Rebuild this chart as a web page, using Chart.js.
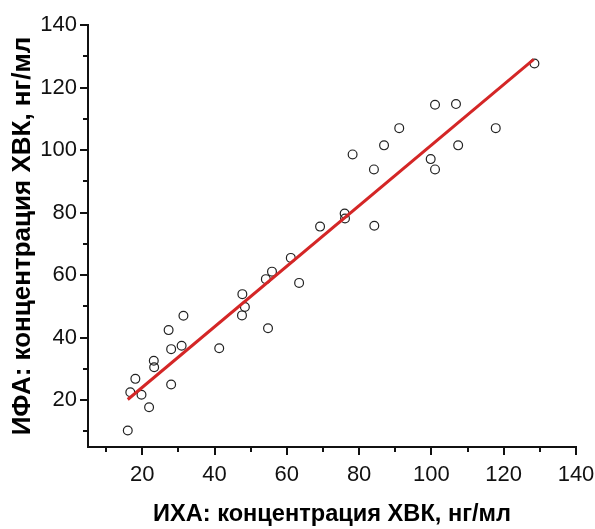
<!DOCTYPE html>
<html><head><meta charset="utf-8">
<script src="https://cdn.jsdelivr.net/npm/chart.js@4"></script>
<style>html,body{margin:0;padding:0;background:#fff}canvas{display:block}</style>
</head><body>
<canvas id="c" width="595" height="529"></canvas>
<script>
// ИХА (x) values
const ichaX = [16.0, 16.7, 18.1, 19.8, 21.9, 23.2, 23.3, 27.3, 28.0, 28.0, 30.9, 31.4, 41.3, 47.6, 47.7, 48.4,
  54.2, 54.8, 55.9, 61.1, 63.4, 69.2, 76.0, 76.1, 78.2, 84.1, 84.2, 86.9, 91.1, 99.8, 101.0, 101.0, 106.8, 107.4, 117.8, 128.5];
// ИФА (y) values
const ifaY = [10.3, 22.5, 26.8, 21.7, 17.7, 32.6, 30.5, 42.4, 36.3, 25.0, 37.4, 47.0, 36.6, 47.1, 53.9, 49.8,
  58.7, 43.0, 61.1, 65.5, 57.5, 75.5, 79.7, 78.1, 98.6, 93.8, 75.8, 101.5, 107.0, 97.1, 93.8, 114.5, 114.7, 101.5, 107.0, 127.7];
// regression line end points
const fitX = [16.0, 128.3];
const fitY = [20.2, 129.0];
const majorTicks = [20, 40, 60, 80, 100, 120, 140];
const minorTicks = [10, 30, 50, 70, 90, 110, 130];
const xTitle = 'ИХА: концентрация ХВК, нг/мл';
const yTitle = 'ИФА: концентрация ХВК, нг/мл';

const FONT = "'Liberation Sans', Arial, sans-serif";

const minorTickPlugin = {
  id: 'minorTicks',
  afterDraw(chart) {
    const ctx = chart.ctx;
    const xs = chart.scales.x, ys = chart.scales.y;
    ctx.save();
    ctx.strokeStyle = '#111';
    ctx.lineWidth = 2;
    ctx.beginPath();
    minorTicks.forEach(v => {
      const px = Math.round(xs.getPixelForValue(v));
      ctx.moveTo(px, xs.top); ctx.lineTo(px, xs.top + 5);
      const py = Math.round(ys.getPixelForValue(v));
      ctx.moveTo(ys.right, py); ctx.lineTo(ys.right - 5, py);
    });
    ctx.stroke();
    ctx.restore();
  }
};

function axis(title, size, pad, tickPad) {
  return {
    type: 'linear', min: 5, max: 140,
    afterBuildTicks: s => { s.ticks = majorTicks.map(v => ({ value: v })); },
    border: { display: true, color: '#111', width: 2 },
    grid: { display: true, drawOnChartArea: false, drawTicks: true, tickLength: 8, color: '#111', lineWidth: 2 },
    ticks: { color: '#111', padding: tickPad, font: { family: FONT, size: 22 }, maxRotation: 0, autoSkip: false },
    title: { display: true, text: title, color: '#000', padding: pad, font: { family: FONT, size: size, weight: 'bold' } }
  };
}

const xAxis = axis(xTitle, 23.6, { top: 0, bottom: 0 }, 7);
xAxis.afterFit = s => { s.height = 82; s.paddingLeft = 0; s.paddingRight = 0; };
const yAxis = axis(yTitle, 26, { top: 7, bottom: 0 }, 3);
yAxis.afterFit = s => { s.width = 88; s.paddingTop = 0; s.paddingBottom = 0; };

new Chart(document.getElementById('c'), {
  type: 'scatter',
  data: {
    datasets: [
      {
        type: 'line', label: 'fit', order: 0,
        data: fitX.map((x, i) => ({ x, y: fitY[i] })),
        borderColor: '#d42626', borderWidth: 3, pointRadius: 0, fill: false, tension: 0
      },
      {
        label: 'data', order: 1,
        data: ichaX.map((x, i) => ({ x, y: ifaY[i] })),
        pointStyle: 'circle', pointRadius: 4.4, pointBorderWidth: 1.2,
        borderColor: '#222', backgroundColor: 'rgba(255,255,255,0)'
      }
    ]
  },
  options: {
    responsive: false, animation: false, devicePixelRatio: 1,
    layout: { padding: { top: 25, right: 19, left: 0, bottom: 0 } },
    plugins: { legend: { display: false }, tooltip: { enabled: false } },
    scales: { x: xAxis, y: yAxis }
  },
  plugins: [minorTickPlugin]
});
</script>
</body></html>
